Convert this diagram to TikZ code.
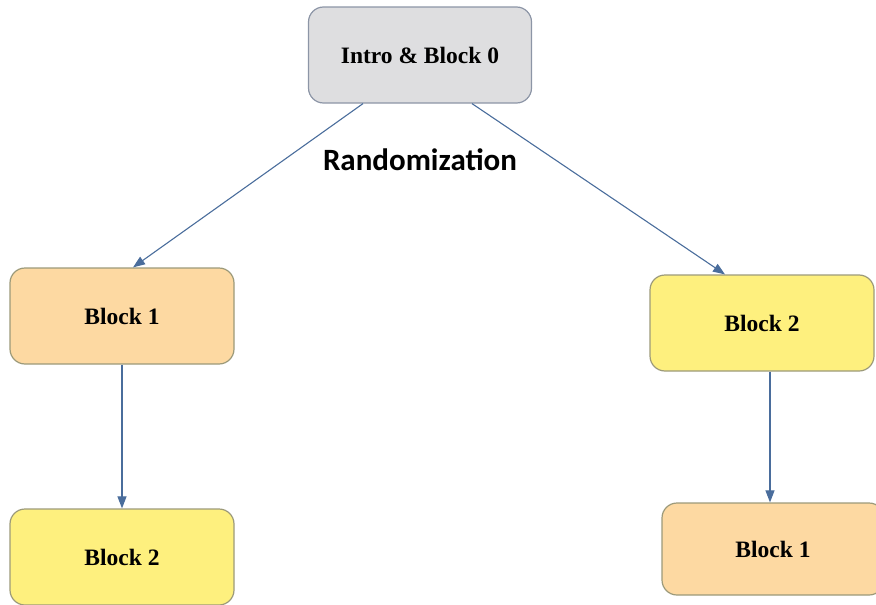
\documentclass[tikz,border=0pt]{standalone}
\usepackage{fontspec}
\setmainfont{Liberation Serif}
\newfontfamily\labelfont{Carlito}
\usetikzlibrary{arrows.meta,positioning}
\definecolor{edgec}{HTML}{4A6D9C}
\definecolor{greyc}{HTML}{DEDEE0}
\definecolor{greyline}{HTML}{8C95A6}
\definecolor{orangec}{HTML}{FDD9A2}
\definecolor{yellowc}{HTML}{FEF07E}
\definecolor{olivec}{HTML}{9C9A7A}
\tikzset{
  ar/.style={-{Triangle[length=12pt,width=9pt]},line width=1.1pt,edgec},
  box/.style={draw=olivec,line width=1.2pt,rounded corners=15pt,align=center,
    minimum width=224pt,minimum height=96pt,font=\fontsize{23.5}{26}\selectfont\bfseries}
}
\begin{document}
\begin{tikzpicture}[x=1pt,y=-1pt]
\useasboundingbox (0,0) rectangle (876,605);
\node[box,fill=greyc,draw=greyline,minimum width=223pt] (intro) at (420,55) {Intro \& Block 0};
\node[box,fill=orangec] (b1l) at (122,316) {Block 1};
\node[box,fill=yellowc] (b2r) at (762,323) {Block 2};
\node[box,fill=yellowc] (b2l) at (122,557) {Block 2};
\node[box,fill=orangec,minimum width=222pt,minimum height=92pt] (b1r) at (773,549) {Block 1};
\node[font=\labelfont\fontsize{31}{34}\selectfont\bfseries] (rand) at (420,160) {Randomization};
% randomized order
\draw[ar] ([xshift=-57pt]intro.south) -- ([xshift=11pt]b1l.north);
\draw[ar] ([xshift=52pt]intro.south) -- ([xshift=-37pt]b2r.north);
\draw[ar] (b1l.south) -- (b2l.north);
\draw[ar] ([xshift=8pt]b2r.south) -- ([xshift=-3pt]b1r.north);
\end{tikzpicture}
\end{document}
